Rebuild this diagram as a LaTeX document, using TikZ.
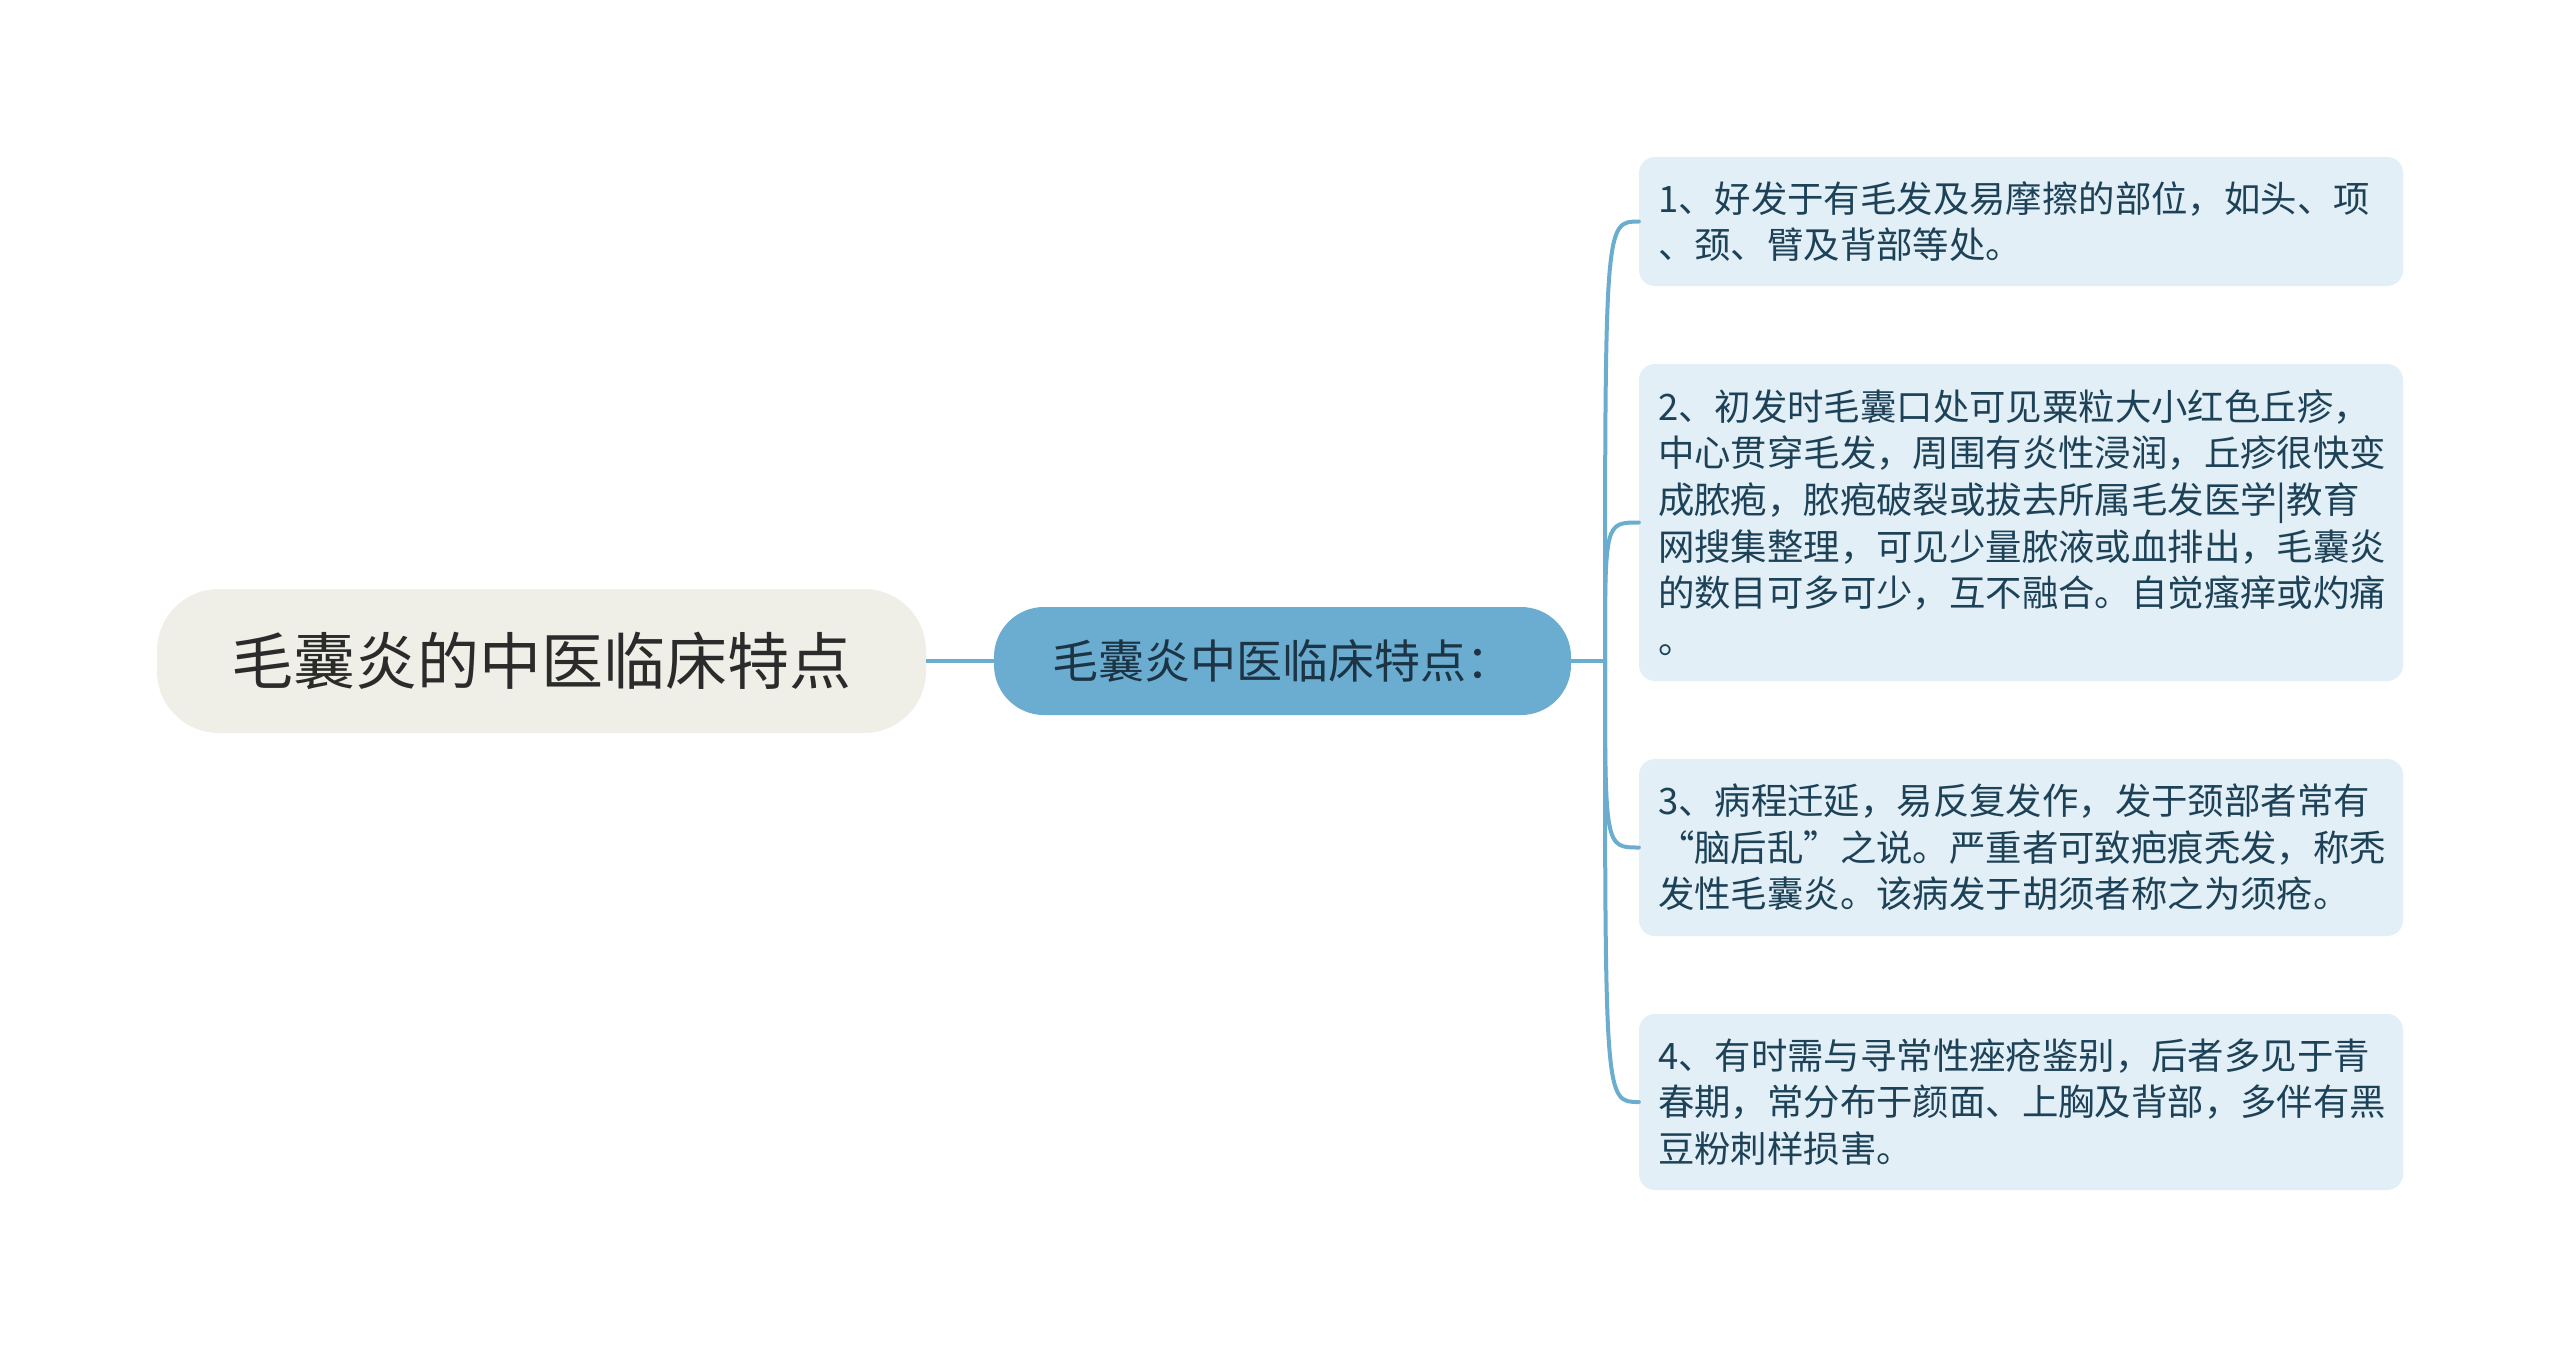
\documentclass[tikz,border=0pt]{standalone}
\usepackage{fontspec}
\setmainfont{Noto Sans CJK SC}
\definecolor{rootfill}{HTML}{EFEFE7}
\definecolor{midfill}{HTML}{6AADD0}
\definecolor{childfill}{HTML}{E2EFF7}
\definecolor{conncol}{HTML}{6BADCF}
\definecolor{roottext}{HTML}{2B2B2B}
\definecolor{midtext}{HTML}{1D3445}
\definecolor{childtext}{HTML}{1D4258}
\newcommand{\fwq}[1]{{\addfontfeature{RawFeature=+fwid}#1}}
\begin{document}
\begin{tikzpicture}[x=1pt,y=-1pt,
  rootbox/.style={fill=rootfill, rounded corners=62pt, minimum width=769pt, minimum height=144pt,
    text=roottext, font=\fontsize{62}{74}\selectfont, inner sep=0pt},
  midbox/.style={fill=midfill, rounded corners=50pt, minimum width=577pt, minimum height=108pt,
    text=midtext, font=\fontsize{46}{56}\selectfont, inner sep=0pt},
  childbox/.style={fill=childfill, rounded corners=16pt, minimum width=764pt, text width=726pt,
    inner xsep=19pt, inner ysep=0pt, align=left, text=childtext,
    font=\fontsize{36.4}{46.6}\selectfont},
  conn/.style={draw=conncol, line width=4pt}
]
\useasboundingbox (0,0) rectangle (2560,1347);
\fill[white] (0,0) rectangle (2560,1347);

\node[rootbox] (root) at (541.5,661) {毛囊炎的中医临床特点};
\node[midbox] (mid) at (1282.5,661) {毛囊炎中医临床特点：};
\coordinate (br) at (1605,661);

\node[childbox, minimum height=129pt] (c1) at (2021,221.5)
  {1、好发于有毛发及易摩擦的部位，如头、项\\、颈、臂及背部等处。};
\node[childbox, minimum height=317pt] (c2) at (2021,522.5)
  {2、初发时毛囊口处可见粟粒大小红色丘疹，\\中心贯穿毛发，周围有炎性浸润，丘疹很快变\\成脓疱，脓疱破裂或拔去所属毛发医学|教育\\网搜集整理，可见少量脓液或血排出，毛囊炎\\的数目可多可少，互不融合。自觉瘙痒或灼痛\\。};
\node[childbox, minimum height=177pt] (c3) at (2021,847.5)
  {3、病程迁延，易反复发作，发于颈部者常有\\\fwq{“}脑后乱\fwq{”}之说。严重者可致疤痕秃发，称秃\\发性毛囊炎。该病发于胡须者称之为须疮。};
\node[childbox, minimum height=176pt] (c4) at (2021,1102)
  {4、有时需与寻常性痤疮鉴别，后者多见于青\\春期，常分布于颜面、上胸及背部，多伴有黑\\豆粉刺样损害。};

\draw[conn] (root.east) -- (mid.west);
\draw[conn] (mid.east) -- (br);
\foreach \c in {c1,c2,c3,c4}{
  \draw[conn, line cap=round] (br) .. controls (br |- \c.west) .. (\c.west);
}
\end{tikzpicture}
\end{document}
